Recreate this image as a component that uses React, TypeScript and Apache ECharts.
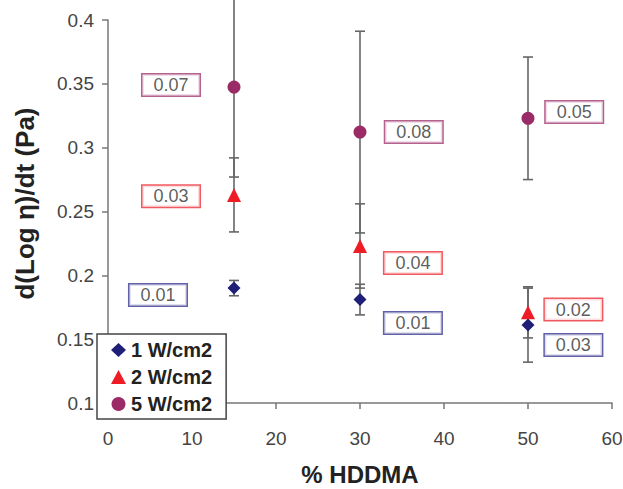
import React, { useEffect, useRef } from "react";
import * as echarts from "echarts";

const xValues = [15, 30, 50];
const seriesNames = ["1 W/cm2", "2 W/cm2", "5 W/cm2"];
const w1 = [0.19, 0.181, 0.161];
const w1Err = [0.006, 0.012, 0.029];
const w2 = [0.263, 0.223, 0.171];
const w2Err = [0.029, 0.033, 0.02];
const w5 = [0.3475, 0.3122, 0.323];
const w5Err = [0.0705, 0.079, 0.048];

// boxed annotation labels: x, y, text, series index
const noteX = [7.5, 7.5, 5.95, 36.4, 55.5, 36.3, 36.3, 55.4, 55.4];
const noteY = [0.349, 0.262, 0.1846, 0.3122, 0.3279, 0.2096, 0.1626, 0.1732, 0.1454];
const noteText = ["0.07", "0.03", "0.01", "0.08", "0.05", "0.04", "0.01", "0.02", "0.03"];
const noteSeries = [2, 1, 0, 2, 2, 1, 0, 1, 0];

const xTicks = { min: 0, max: 60, interval: 10 };
const yTicks = { min: 0.1, max: 0.4, interval: 0.05 };

const colors = ["#1f1f78", "#ee1c25", "#9b2b66"];
const boxColors = ["#3a3a92", "#ee3038", "#a33a72"];
const symbols = ["diamond", "triangle", "circle"];
const FONT = "'Liberation Sans', Arial, sans-serif";

export default function App() {
  const ref = useRef<HTMLDivElement>(null);
  useEffect(() => {
    if (!ref.current) return;
    const chart = echarts.init(ref.current, null, { renderer: "svg" });
    const values = [w1, w2, w5];
    const errs = [w1Err, w2Err, w5Err];
    const errData: number[][] = [];
    values.forEach((vals, s) => {
      vals.forEach((v, i) => {
        errData.push([xValues[i], v - errs[s][i], v + errs[s][i]]);
      });
    });
    const errSeries = {
      type: "custom",
      silent: true,
      clip: false,
      z: 1,
      data: errData,
      renderItem: (params: any, api: any) => {
        const x = api.value(0);
        const lo = api.coord([x, api.value(1)]);
        const hi = api.coord([x, api.value(2)]);
        const cap = 5;
        const style = { stroke: "#666", lineWidth: 1.6 };
        return {
          type: "group",
          children: [
            { type: "line", shape: { x1: lo[0], y1: lo[1], x2: hi[0], y2: hi[1] }, style },
            { type: "line", shape: { x1: lo[0] - cap, y1: lo[1], x2: lo[0] + cap, y2: lo[1] }, style },
            { type: "line", shape: { x1: hi[0] - cap, y1: hi[1], x2: hi[0] + cap, y2: hi[1] }, style },
          ],
        };
      },
    };
    const pointSeries = values.map((vals, s) => ({
      type: "scatter",
      name: seriesNames[s],
      symbol: symbols[s],
      symbolSize: s === 1 ? 14 : 13,
      z: 3,
      itemStyle: { color: colors[s], opacity: 1 },
      data: vals.map((v, i) => [xValues[i], v]),
    }));
    const noteSeriesObj = {
      type: "scatter",
      silent: true,
      symbolSize: 1,
      z: 2,
      itemStyle: { color: "rgba(0,0,0,0)" },
      data: noteText.map((t, i) => ({
        value: [noteX[i], noteY[i]],
        label: {
          show: true,
          position: "inside",
          formatter: t,
          color: "#333",
          fontSize: 18,
          fontFamily: FONT,
          backgroundColor: "#fff",
          borderColor: boxColors[noteSeries[i]],
          borderWidth: 1.5,
          padding: [2, 11, 1, 11],
        },
      })),
    };
    const axisLine = { show: true, lineStyle: { color: "#777", width: 1.5 } };
    chart.setOption({
      animation: false,
      backgroundColor: "#fff",
      grid: { left: 108, right: 11, top: 20, bottom: 86, containLabel: false, outerBoundsMode: "none" },
      xAxis: {
        type: "value",
        ...xTicks,
        splitLine: { show: false },
        axisLine,
        axisTick: { show: true, length: 6, lineStyle: { color: "#777", width: 1.5 } },
        axisLabel: { fontSize: 19, color: "#444", fontFamily: FONT, margin: 26 },
        name: "% HDDMA",
        nameLocation: "middle",
        nameGap: 59,
        nameTextStyle: { fontSize: 24, lineHeight: 24, fontWeight: "bold", color: "#222", fontFamily: FONT },
      },
      yAxis: {
        type: "value",
        ...yTicks,
        splitLine: { show: false },
        axisLine,
        axisTick: { show: true, length: 6, lineStyle: { color: "#777", width: 1.5 } },
        axisLabel: {
          fontSize: 19,
          color: "#444",
          fontFamily: FONT,
          margin: 14,
          formatter: (v: number) => String(+v.toFixed(2)),
        },
        name: "d(Log η)/dt (Pa)",
        nameLocation: "middle",
        nameGap: 70,
        nameTextStyle: { fontSize: 26, fontWeight: "bold", color: "#222", fontFamily: FONT, padding: [0, 0, 0, 16] },
      },
      legend: {
        data: seriesNames,
        orient: "vertical",
        left: 97,
        top: 334,
        padding: [6, 14, 5, 14],
        itemGap: 7,
        itemWidth: 15,
        itemHeight: 14,
        backgroundColor: "#fff",
        borderColor: "#444",
        borderWidth: 1.5,
        textStyle: { fontSize: 20, fontWeight: "bold", color: "#222", fontFamily: FONT },
      },
      series: [errSeries, noteSeriesObj, ...pointSeries],
    });
    return () => chart.dispose();
  }, []);
  return <div ref={ref} style={{ width: 623, height: 489, position: "absolute", left: 0, top: 0 }} />;
}
